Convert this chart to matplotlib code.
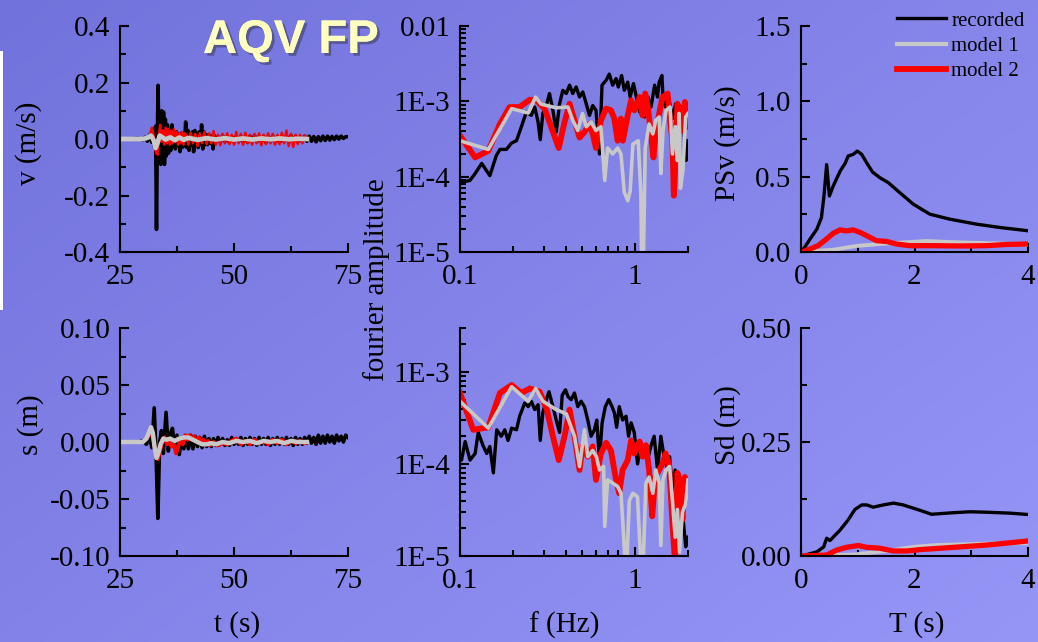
import numpy as np
import matplotlib
matplotlib.use("Agg")
import matplotlib.pyplot as plt
from matplotlib.ticker import FixedLocator, FixedFormatter, NullFormatter
from matplotlib.lines import Line2D
from matplotlib.patches import Rectangle
import matplotlib.patheffects as pe

# ---------------------------------------------------------------- data
# velocity time histories (m/s)
rec_v_t = [25.0, 27.0, 29.0, 30.0, 30.5, 31.0, 31.5, 32.0, 32.3, 32.6, 32.8, 33.0,
           33.2, 33.35, 33.55, 33.75, 33.95, 34.15, 34.35, 34.55, 34.75, 34.95,
           35.15, 35.4, 35.65, 35.9, 36.15, 36.4, 36.65, 36.9, 37.15, 37.4, 37.65,
           37.9, 38.15, 38.4, 38.65, 38.9, 39.15, 39.4, 39.65, 39.9, 40.15, 40.4,
           40.65, 40.9, 41.15, 41.4, 41.65, 41.9, 42.15, 42.4, 42.65, 42.9, 43.15,
           43.4, 43.65, 43.9, 44.2, 44.5, 44.8, 45.1, 45.4, 45.7, 46.0]
rec_v = [0.000, 0.000, 0.002, -0.003, 0.006, -0.008, 0.015, -0.012, 0.035, -0.030, 0.045, -0.320,
         0.020, 0.190, -0.070, 0.060, -0.090, 0.100, -0.080, 0.095, -0.090, 0.070,
         -0.060, 0.050, -0.050, 0.030, -0.040, 0.050, -0.025, 0.020, -0.035, 0.025, -0.020,
         0.015, -0.045, 0.020, -0.030, 0.020, -0.025, 0.060, -0.030, 0.030, -0.040, 0.020,
         -0.020, 0.025, -0.045, 0.030, -0.020, 0.020, -0.030, 0.025, -0.020, 0.050, -0.035,
         0.025, -0.020, 0.015, -0.020, 0.015, -0.015, 0.010, -0.035, 0.012, -0.010]
rec_v_tail_t = [46.5 + 0.5 * i for i in range(58)]
rec_v_tail = [0.008, -0.010, 0.012, -0.008, 0.010, -0.012, 0.008, -0.010, 0.010, -0.008,
              0.009, -0.010, 0.008, -0.012, 0.010, -0.008, 0.012, -0.010, 0.008, -0.009,
              0.010, -0.012, 0.009, -0.008, 0.010, -0.010, 0.008, -0.012, 0.010, -0.008,
              0.009, -0.010, 0.012, -0.008, 0.010, -0.010, 0.008, -0.009, 0.010, -0.008,
              0.010, -0.008, 0.009, -0.010, 0.008, -0.006, 0.010, -0.005, 0.010, -0.004,
              0.009, -0.002, 0.010, 0.000, 0.010, 0.002, 0.008, 0.008]

m2_v_t = [25.0, 30.0, 31.0, 31.5, 32.0, 32.3, 32.6, 32.9, 33.3, 33.6, 33.8, 34.1, 34.4,
          34.7, 35.0, 35.3, 35.6, 35.9, 36.2, 36.5, 36.8, 37.1, 37.4, 37.7, 38.0, 38.3,
          38.6, 38.9, 39.2]
m2_v = [0.000, 0.000, 0.003, 0.012, 0.040, 0.020, -0.020, -0.050, -0.055, 0.020, 0.050, -0.010, 0.030,
        -0.020, 0.040, -0.015, 0.035, -0.020, 0.030, -0.015, 0.035, -0.010, 0.025, -0.020, 0.020, -0.015,
        0.025, -0.020, 0.020]
m2_v_tail_t = [39.5 + 0.5 * i for i in range(54)]
m2_v_tail = [0.015, -0.020, 0.022, -0.015, 0.018, -0.025, 0.020, -0.015, 0.025, -0.018,
             0.020, -0.015, 0.028, -0.020, 0.015, -0.022, 0.018, -0.015, 0.020, -0.018,
             0.015, -0.020, 0.025, -0.015, 0.018, -0.020, 0.022, -0.015, 0.015, -0.020,
             0.018, -0.015, 0.020, -0.022, 0.015, -0.018, 0.020, -0.015, 0.018, -0.020,
             0.015, -0.018, 0.022, -0.015, 0.030, -0.025, 0.018, -0.028, 0.015, -0.018,
             0.015, -0.015, 0.012, 0.000]

m1_v_t = [25, 30, 31, 31.8, 32.4, 32.8, 33.2, 33.7, 34.3, 35, 36, 37, 38, 39, 40, 42, 44,
          46, 48, 50, 52, 54, 56, 58, 60, 62, 64, 66]
m1_v = [0.0, 0.0, 0.004, 0.012, -0.005, -0.032, -0.015, 0.012, 0.006, -0.002, 0.006, -0.004,
        0.005, -0.003, 0.004, -0.003, 0.003, -0.002, 0.003, -0.002, 0.002, -0.002, 0.002,
        -0.001, 0.002, -0.001, 0.001, 0.0]

# displacement time histories (m)
rec_s_t = [25.0, 29.0, 30.0, 30.8, 31.5, 32.0, 32.5, 32.9, 33.3, 33.7, 34.1, 34.5, 35.1,
           35.6, 36.1, 36.5, 37.0, 37.5, 38.0, 38.5, 39.0, 39.5, 40.0, 40.5, 41.0, 41.5,
           42.0, 42.5, 43.0, 43.5, 44.0, 44.5, 45.0]
rec_s = [0.0, 0.0, 0.001, -0.002, 0.004, -0.005, 0.030, -0.010, -0.067, 0.000, 0.010, -0.010, 0.026,
         -0.008, 0.008, 0.012, -0.005, 0.006, -0.011, 0.004, -0.006, 0.005, -0.006, 0.006, -0.006, 0.005,
         -0.004, 0.004, -0.005, 0.005, -0.004, 0.003, -0.004]
rec_s_tail_t = [45.5 + 0.5 * i for i in range(60)]
rec_s_tail = [0.003, -0.003, 0.004, -0.002, 0.003, -0.003, 0.002, -0.003, 0.004, -0.002,
              0.003, -0.002, 0.004, -0.003, 0.003, -0.002, 0.004, -0.002, 0.003, -0.003,
              0.004, -0.002, 0.003, -0.002, 0.004, -0.003, 0.003, -0.002, 0.004, -0.002,
              0.003, -0.002, 0.004, -0.002, 0.003, -0.003, 0.004, -0.002, 0.003, -0.002,
              0.004, -0.001, 0.005, -0.001, 0.004, -0.002, 0.006, -0.001, 0.005, -0.001,
              0.006, 0.000, 0.005, -0.001, 0.006, 0.001, 0.005, 0.000, 0.006, 0.004]

m2_s_t = [25, 30, 31, 31.8, 32.4, 32.9, 33.3, 33.8, 34.3, 34.8, 35.3, 35.8, 36.3, 36.8,
          37.3, 37.8, 38.3, 38.8, 39.3, 39.8, 40.3, 40.8, 41.3, 41.8, 42.3, 42.8, 43.3,
          43.8, 44.3, 44.8, 45.5, 46.5, 47.5, 48.5, 49.5, 50.5, 51.5, 52.5, 53.5, 54.5,
          55.5, 56.5, 57.5, 58.5, 59.5, 60.5, 61.5, 62.5, 63.5, 64.5, 65.5, 66]
m2_s = [0.0, 0.0, 0.004, 0.010, 0.000, -0.012, -0.015, -0.008, 0.002, 0.004, -0.002, 0.000,
        -0.004, -0.002, -0.010, -0.003, 0.002, -0.002, 0.006, 0.002, 0.006, 0.002, 0.005,
        0.000, 0.004, -0.001, 0.002, -0.002, 0.001, -0.003, 0.000, -0.003, -0.001, -0.002,
        0.001, 0.003, -0.002, 0.001, -0.002, 0.002, -0.001, 0.001, -0.002, 0.002, -0.001,
        0.002, -0.002, 0.001, -0.001, 0.001, -0.001, 0.0]

m1_s_t = [25, 30, 30.8, 31.4, 31.8, 32.2, 32.6, 33.0, 33.4, 33.9, 34.5, 35.2, 36.0, 37.0,
          38.0, 39.0, 40.0, 41.0, 42.0, 43.0, 44.0, 45.0, 46.0, 47.5, 49.0, 50.5, 52.0,
          53.5, 55.0, 56.5, 58.0, 59.5, 61.0, 62.5, 64.0, 66.0]
m1_s = [0.0, 0.0, 0.003, 0.009, 0.013, 0.008, -0.005, -0.014, -0.010, -0.002, 0.003, 0.002,
        0.003, 0.001, 0.003, 0.004, 0.004, 0.002, 0.000, -0.002, -0.002, -0.001, -0.002,
        0.000, -0.001, 0.001, 0.000, 0.001, -0.001, 0.001, 0.000, 0.001, -0.001, 0.001,
        0.000, 0.000]

# Fourier amplitude spectra of velocity
rec_f1 = [0.100, 0.114, 0.122, 0.133, 0.148, 0.161, 0.169, 0.184, 0.197, 0.210, 0.224, 0.239,
          0.255, 0.267, 0.279, 0.287, 0.297, 0.313, 0.324, 0.339, 0.354, 0.370, 0.386, 0.404,
          0.422, 0.440, 0.460, 0.481, 0.502, 0.525, 0.548, 0.572, 0.597, 0.625, 0.646, 0.682,
          0.711, 0.743, 0.777, 0.800, 0.836, 0.866, 0.906, 0.935, 0.977, 1.01, 1.06, 1.09,
          1.13, 1.18, 1.23, 1.29, 1.34, 1.37, 1.42, 1.44, 1.49, 1.56, 1.63, 1.70, 1.78, 1.84,
          1.90, 1.95, 2.00]
rec_a1 = [8.4e-5, 8.9e-5, 1.1e-4, 1.5e-4, 1.03e-4, 1.9e-4, 2.3e-4, 2.3e-4, 2.8e-4, 3.0e-4,
          4.6e-4, 7.2e-4, 6.5e-4, 8.4e-4, 5.3e-4, 3.1e-4, 6.9e-4, 9.3e-4, 1.27e-3, 7.6e-4,
          3.9e-4, 9.3e-4, 1.4e-3, 1.27e-3, 1.64e-3, 1.27e-3, 1.55e-3, 1.14e-3, 1.33e-3, 9.3e-4,
          6.5e-4, 8.8e-4, 7.6e-4, 2.0e-4, 1.64e-3, 1.9e-3, 2.3e-3, 1.64e-3, 2.0e-3, 1.55e-3,
          2.2e-3, 1.4e-3, 1.8e-3, 1.14e-3, 1.72e-3, 1.2e-3, 7.2e-4, 1.14e-3, 6.2e-4, 1.14e-3,
          8.4e-4, 1.64e-3, 1.14e-3, 1.8e-3, 2.2e-3, 1.14e-3, 8.4e-4, 1.03e-3, 5.9e-4, 9.3e-4,
          6.5e-4, 8.4e-4, 3.9e-4, 1.64e-4, 3.0e-4]

m2_f1 = [0.100, 0.122, 0.145, 0.169, 0.192, 0.219, 0.250, 0.273, 0.304, 0.331, 0.366, 0.395,
         0.422, 0.450, 0.481, 0.513, 0.548, 0.572, 0.597, 0.637, 0.682, 0.727, 0.760, 0.793,
         0.829, 0.850, 0.906, 0.947, 0.990, 1.06, 1.10, 1.14, 1.18, 1.23, 1.27, 1.31, 1.37,
         1.43, 1.53, 1.58, 1.63, 1.66, 1.70, 1.74, 1.78, 1.86, 1.92, 2.00]
m2_a1 = [3.5e-4, 1.8e-4, 2.2e-4, 5.0e-4, 8.4e-4, 8.4e-4, 1.05e-3, 1.03e-3, 8.0e-4, 4.6e-4,
         2.4e-4, 5.3e-4, 9.3e-4, 5.6e-4, 3.3e-4, 3.9e-4, 5.0e-4, 3.7e-4, 2.4e-4, 5.6e-4,
         8.0e-4, 7.6e-4, 5.9e-4, 3.0e-4, 5.9e-4, 3.0e-4, 6.5e-4, 1.03e-3, 7.6e-4, 1.14e-3,
         6.5e-4, 1.27e-3, 8.4e-4, 3.7e-4, 1.8e-4, 4.1e-4, 6.9e-4, 1.14e-3, 1.27e-3, 5.6e-4,
         3.0e-4, 5.6e-5, 1.64e-4, 9.3e-4, 7.6e-4, 4.1e-4, 9.8e-4, 4.6e-4]

m1_f1 = [0.100, 0.145, 0.197, 0.245, 0.270, 0.290, 0.354, 0.413, 0.440, 0.470, 0.500, 0.525,
         0.560, 0.597, 0.637, 0.670, 0.695, 0.743, 0.793, 0.829, 0.866, 0.906, 0.935, 0.970,
         1.04, 1.077, 1.09, 1.11, 1.14, 1.20, 1.26, 1.31, 1.37, 1.40, 1.44, 1.50, 1.58, 1.63,
         1.69, 1.74, 1.78, 1.81, 1.87, 1.94, 2.00]
m1_a1 = [3.0e-4, 2.3e-4, 8.0e-4, 7.0e-4, 1.14e-3, 9.2e-4, 8.2e-4, 8.4e-4, 5.6e-4, 4.1e-4,
         6.9e-4, 4.6e-4, 5.3e-4, 4.1e-4, 4.6e-4, 8.9e-5, 2.4e-4, 2.0e-4, 2.4e-4, 2.0e-4,
         6.2e-5, 4.8e-5, 6.4e-5, 2.7e-4, 3.0e-4, 5.9e-5, 5.0e-6, 5.0e-6, 2.4e-4, 5.0e-4,
         3.7e-4, 5.6e-4, 6.2e-4, 1.1e-4, 4.1e-4, 7.6e-4, 8.4e-4, 2.0e-4, 4.6e-4, 1.64e-4,
         6.9e-4, 7.0e-5, 1.2e-4, 6.2e-4, 6.9e-4]

# Fourier amplitude spectra of displacement
rec_f2 = [0.100, 0.102, 0.107, 0.114, 0.122, 0.127, 0.136, 0.142, 0.148, 0.155, 0.162, 0.172,
          0.180, 0.188, 0.197, 0.210, 0.219, 0.234, 0.245, 0.255, 0.267, 0.279, 0.287, 0.297,
          0.311, 0.322, 0.339, 0.354, 0.370, 0.383, 0.400, 0.413, 0.431, 0.450, 0.470, 0.491,
          0.513, 0.536, 0.560, 0.585, 0.603, 0.625, 0.647, 0.675, 0.706, 0.737, 0.760, 0.783,
          0.811, 0.847, 0.886, 0.916, 0.947, 0.987, 1.031, 1.077, 1.125, 1.175, 1.227, 1.282,
          1.34, 1.40, 1.46, 1.53, 1.57, 1.63, 1.69, 1.74, 1.82, 1.87, 1.94, 2.00]
rec_a2 = [1.1e-4, 1.1e-4, 1.75e-4, 1.1e-4, 1.3e-4, 2.2e-4, 1.55e-4, 1.3e-4, 1.55e-4, 8.0e-5,
          2.35e-4, 2.0e-4, 2.35e-4, 1.8e-4, 2.45e-4, 2.35e-4, 3.3e-4, 4.6e-4, 4.2e-4, 4.8e-4,
          3.9e-4, 4.4e-4, 1.8e-4, 3.6e-4, 5.0e-4, 6.1e-4, 4.2e-4, 3.0e-4, 2.2e-4, 5.6e-4,
          6.4e-4, 5.4e-4, 5.0e-4, 5.9e-4, 4.2e-4, 4.8e-4, 4.2e-4, 3.0e-4, 2.0e-4, 2.35e-4,
          3.0e-4, 1.1e-4, 2.8e-4, 4.2e-4, 5.0e-4, 4.2e-4, 3.6e-4, 2.5e-4, 4.2e-4, 3.0e-4,
          3.3e-4, 2.0e-4, 2.8e-4, 2.2e-4, 1.0e-4, 1.7e-4, 1.3e-4, 1.1e-4, 1.55e-4, 2.0e-4,
          8.6e-5, 2.0e-4, 1.2e-4, 8.6e-5, 1.2e-4, 5.2e-5, 8.6e-5, 6.2e-5, 6.7e-5, 2.7e-5,
          1.26e-5, 1.6e-5]

m2_f2 = [0.100, 0.119, 0.145, 0.169, 0.197, 0.224, 0.250, 0.285, 0.313, 0.339, 0.366, 0.395,
         0.422, 0.450, 0.481, 0.500, 0.536, 0.572, 0.597, 0.637, 0.682, 0.727, 0.777, 0.810,
         0.847, 0.906, 0.947, 0.987, 1.06, 1.10, 1.15, 1.20, 1.25, 1.30, 1.37, 1.43, 1.49,
         1.56, 1.63, 1.69, 1.74, 1.79, 1.86, 1.92, 2.00]
m2_a2 = [5.9e-4, 2.35e-4, 2.5e-4, 5.9e-4, 7.2e-4, 5.9e-4, 6.6e-4, 6.1e-4, 3.9e-4, 2.0e-4,
         1.1e-4, 2.0e-4, 3.9e-4, 2.0e-4, 8.6e-5, 1.55e-4, 1.2e-4, 1.55e-4, 6.7e-5, 1.3e-4,
         1.7e-4, 1.4e-4, 6.7e-5, 4.8e-5, 8.6e-5, 1.1e-4, 1.8e-4, 1.3e-4, 1.75e-4, 1.2e-4,
         1.6e-4, 8.6e-5, 2.7e-5, 7.2e-5, 8.6e-5, 1.0e-4, 1.3e-4, 1.0e-4, 2.3e-5, 8.0e-6,
         8.0e-5, 6.7e-5, 2.5e-5, 7.2e-5, 4.0e-5]

m1_f2 = [0.100, 0.145, 0.197, 0.245, 0.270, 0.297, 0.354, 0.404, 0.450, 0.481, 0.513, 0.536,
         0.572, 0.600, 0.625, 0.660, 0.670, 0.695, 0.743, 0.793, 0.829, 0.866, 0.886, 0.925,
         0.970, 1.03, 1.077, 1.10, 1.15, 1.20, 1.26, 1.31, 1.37, 1.40, 1.44, 1.50, 1.57,
         1.63, 1.69, 1.74, 1.79, 1.86, 1.94, 2.00]
m1_a2 = [4.8e-4, 2.45e-4, 6.9e-4, 4.8e-4, 6.6e-4, 4.8e-4, 3.9e-4, 3.5e-4, 2.0e-4, 9.4e-5,
         2.35e-4, 1.2e-4, 1.4e-4, 1.2e-4, 8.6e-5, 9.4e-5, 2.1e-5, 6.7e-5, 6.2e-5, 5.7e-5,
         4.8e-5, 1.26e-5, 5.0e-6, 4.0e-5, 4.8e-5, 4.4e-5, 8.0e-6, 5.0e-6, 6.2e-5, 7.2e-5,
         4.8e-5, 8.6e-5, 6.2e-5, 1.3e-5, 6.7e-5, 8.6e-5, 9.4e-5, 4.0e-5, 1.6e-5, 3.2e-5,
         1.1e-5, 3.0e-5, 3.7e-5, 6.7e-5]

# pseudo-spectral velocity (m/s)
rec_psv_T = [0.01, 0.16, 0.28, 0.36, 0.405, 0.452, 0.50, 0.57, 0.69, 0.78, 0.83, 0.92, 0.99,
             1.07, 1.16, 1.26, 1.39, 1.54, 1.74, 1.98, 2.27, 2.62, 3.09, 3.50, 4.00]
rec_psv = [0.0, 0.086, 0.152, 0.229, 0.372, 0.58, 0.372, 0.44, 0.537, 0.59, 0.637, 0.648,
           0.67, 0.648, 0.59, 0.531, 0.493, 0.46, 0.394, 0.317, 0.251, 0.218, 0.185, 0.163, 0.141]
m2_psv_T = [0.01, 0.16, 0.30, 0.45, 0.57, 0.69, 0.80, 0.92, 1.04, 1.18, 1.33, 1.51, 1.68,
            1.92, 2.33, 2.80, 3.27, 3.62, 4.00]
m2_psv = [0.0, 0.02, 0.042, 0.086, 0.125, 0.147, 0.14, 0.147, 0.13, 0.104, 0.075, 0.07,
          0.053, 0.042, 0.042, 0.040, 0.042, 0.050, 0.053]
m1_psv_T = [0.0, 0.57, 0.98, 1.45, 1.92, 2.21, 2.62, 3.15, 3.62, 4.00]
m1_psv = [0.0, 0.015, 0.04, 0.055, 0.066, 0.073, 0.066, 0.060, 0.055, 0.048]

# spectral displacement (m)
rec_sd_T = [0.01, 0.28, 0.40, 0.452, 0.51, 0.69, 0.83, 0.95, 1.07, 1.16, 1.27, 1.45, 1.63,
            1.80, 2.10, 2.30, 2.69, 2.98, 3.27, 3.68, 4.00]
rec_sd = [0.0, 0.009, 0.020, 0.039, 0.034, 0.057, 0.079, 0.102, 0.112, 0.112, 0.107, 0.112,
          0.116, 0.112, 0.100, 0.0915, 0.095, 0.097, 0.096, 0.094, 0.091]
m2_sd_T = [0.0, 0.45, 0.63, 0.80, 1.01, 1.16, 1.39, 1.63, 1.86, 2.10, 2.69, 3.27, 3.68, 4.00]
m2_sd = [0.0, 0.002, 0.013, 0.019, 0.023, 0.019, 0.017, 0.011, 0.011, 0.014, 0.019, 0.024,
         0.029, 0.033]
m1_sd_T = [0.0, 0.92, 1.51, 1.98, 2.39, 2.98, 3.56, 4.00]
m1_sd = [0.0, 0.003, 0.011, 0.020, 0.024, 0.026, 0.028, 0.028]

series_names = ["recorded", "model 1", "model 2"]

# tick labels
v_ticks = [-0.4, -0.2, 0.0, 0.2, 0.4]
v_labels = ["-0.4", "-0.2", "0.0", "0.2", "0.4"]
s_ticks = [-0.10, -0.05, 0.0, 0.05, 0.10]
s_labels = ["-0.10", "-0.05", "0.00", "0.05", "0.10"]
t_ticks = [25, 50, 75]
t_labels = ["25", "50", "75"]
f_ticks = [0.1, 1.0]
f_labels = ["0.1", "1"]
a1_ticks = [1e-5, 1e-4, 1e-3, 1e-2]
a1_labels = ["1E-5", "1E-4", "1E-3", "0.01"]
a2_ticks = [1e-5, 1e-4, 1e-3]
a2_labels = ["1E-5", "1E-4", "1E-3"]
psv_ticks = [0.0, 0.5, 1.0, 1.5]
psv_labels = ["0.0", "0.5", "1.0", "1.5"]
sd_ticks = [0.0, 0.25, 0.50]
sd_labels = ["0.00", "0.25", "0.50"]
T_ticks = [0, 2, 4]
T_labels = ["0", "2", "4"]

# ---------------------------------------------------------------- style
W, H, DPI = 1038, 642, 100
plt.rcParams['font.family'] = ['Liberation Serif', 'DejaVu Serif']
FS = 21
C_REC, C_M1, C_M2 = "black", "#c8c8c8", "#ff0000"

fig = plt.figure(figsize=(W / DPI, H / DPI), dpi=DPI)

# diagonal blue-violet background
bg = fig.add_axes([0, 0, 1, 1], zorder=-10)
gy, gx = np.mgrid[0:1:200j, 0:1:300j]
mix = (0.55 * gx + 0.45 * gy)[..., None]
c_top = np.array([114, 114, 220]) / 255.0
c_bot = np.array([150, 150, 247]) / 255.0
bg.imshow(c_top + (c_bot - c_top) * mix, aspect='auto', extent=[0, 1, 0, 1], origin='upper')
bg.axis('off')

fig.patches.append(Rectangle((0, 1 - 310 / H), 2.5 / W, (310 - 51) / H,
                             transform=fig.transFigure, facecolor='white',
                             edgecolor='none', zorder=-5))


def panel(left, top, right, bottom):
    ax = fig.add_axes([left / W, 1 - bottom / H, (right - left) / W, (bottom - top) / H])
    ax.set_facecolor('none')
    for s in ('top', 'right'):
        ax.spines[s].set_visible(False)
    for s in ('left', 'bottom'):
        ax.spines[s].set_linewidth(1.5)
    ax.tick_params(which='both', direction='in', width=1.5, labelsize=FS)
    ax.tick_params(which='major', length=6.5)
    ax.tick_params(which='minor', length=4.5)
    ax.tick_params(axis='y', pad=7)
    ax.tick_params(axis='x', pad=9)
    return ax


def fixed(axis, ticks, labels, minor=None):
    axis.set_major_locator(FixedLocator(ticks))
    axis.set_major_formatter(FixedFormatter(labels))
    if minor is not None:
        axis.set_minor_locator(FixedLocator(minor))
    axis.set_minor_formatter(NullFormatter())


def log_minor(lo, hi):
    out = []
    for d in range(lo, hi):
        out += [m * 10.0 ** d for m in range(2, 10)]
    return out


TOP1, BOT1, TOP2, BOT2 = 26, 252, 328, 556
X1, X1R, X2, X2R, X3, X3R = 120, 348, 460, 688, 801, 1028

# velocity time history
ax1 = panel(X1, TOP1, X1R, BOT1)
ax1.plot(rec_v_t + rec_v_tail_t, rec_v + rec_v_tail, color=C_REC, lw=2.6)
ax1.plot(m2_v_t + m2_v_tail_t, m2_v + m2_v_tail, color=C_M2, lw=1.8)
ax1.plot(m1_v_t, m1_v, color=C_M1, lw=3.4)
ax1.set_xlim(25, 75)
ax1.set_ylim(-0.4, 0.4)
fixed(ax1.xaxis, t_ticks, t_labels, [37.5, 62.5])
fixed(ax1.yaxis, v_ticks, v_labels, [-0.3, -0.1, 0.1, 0.3])

# displacement time history
ax4 = panel(X1, TOP2, X1R, BOT2)
ax4.plot(rec_s_t + rec_s_tail_t, rec_s + rec_s_tail, color=C_REC, lw=2.6)
ax4.plot(m2_s_t, m2_s, color=C_M2, lw=2.8)
ax4.plot(m1_s_t, m1_s, color=C_M1, lw=3.2)
ax4.set_xlim(25, 75)
ax4.set_ylim(-0.10, 0.10)
fixed(ax4.xaxis, t_ticks, t_labels, [37.5, 62.5])
fixed(ax4.yaxis, s_ticks, s_labels, [-0.075, -0.025, 0.025, 0.075])

# Fourier spectra
f_minor = [0.2, 0.3, 0.4, 0.5, 0.6, 0.7, 0.8, 0.9, 2.0]
ax2 = panel(X2, TOP1, X2R, BOT1)
ax2.plot(rec_f1, rec_a1, color=C_REC, lw=2.4)
ax2.plot(m2_f1, m2_a1, color=C_M2, lw=4.2)
ax2.plot(m1_f1, m1_a1, color=C_M1, lw=2.6)
ax2.set_xscale('log')
ax2.set_yscale('log')
ax2.set_xlim(0.1, 2.0)
ax2.set_ylim(1e-5, 1e-2)
fixed(ax2.xaxis, f_ticks, f_labels, f_minor)
fixed(ax2.yaxis, a1_ticks, a1_labels, log_minor(-5, -2))

ax5 = panel(X2, TOP2, X2R, BOT2)
ax5.plot(rec_f2, rec_a2, color=C_REC, lw=2.4)
ax5.plot(m2_f2, m2_a2, color=C_M2, lw=4.2)
ax5.plot(m1_f2, m1_a2, color=C_M1, lw=2.6)
ax5.set_xscale('log')
ax5.set_yscale('log')
ax5.set_xlim(0.1, 2.0)
ax5.set_ylim(1e-5, 3e-3)
fixed(ax5.xaxis, f_ticks, f_labels, f_minor)
fixed(ax5.yaxis, a2_ticks, a2_labels, [m for m in log_minor(-5, -2) if m <= 3e-3])

# response spectra
ax3 = panel(X3, TOP1, X3R, BOT1)
ax3.plot(rec_psv_T, rec_psv, color=C_REC, lw=2.4)
ax3.plot(m1_psv_T, m1_psv, color=C_M1, lw=2.8)
ax3.plot(m2_psv_T, m2_psv, color=C_M2, lw=3.8)
ax3.set_xlim(0, 4)
ax3.set_ylim(0, 1.5)
fixed(ax3.xaxis, T_ticks, T_labels, [1, 3])
fixed(ax3.yaxis, psv_ticks, psv_labels, [0.25, 0.75, 1.25])

ax6 = panel(X3, TOP2, X3R, BOT2)
ax6.plot(rec_sd_T, rec_sd, color=C_REC, lw=2.4)
ax6.plot(m1_sd_T, m1_sd, color=C_M1, lw=2.8)
ax6.plot(m2_sd_T, m2_sd, color=C_M2, lw=3.8)
ax6.set_xlim(0, 4)
ax6.set_ylim(0, 0.5)
fixed(ax6.xaxis, T_ticks, T_labels, [1, 3])
fixed(ax6.yaxis, sd_ticks, sd_labels, [0.125, 0.375])

for ax in (ax1, ax2, ax3, ax4, ax5, ax6):
    for a in ax.get_lines():
        a.set_solid_joinstyle('round')

# legend
handles = [Line2D([], [], color=C_REC, lw=2.4),
           Line2D([], [], color=C_M1, lw=3.0),
           Line2D([], [], color=C_M2, lw=4.2)]
fig.legend(handles, series_names, loc='upper left',
           bbox_to_anchor=(897 / W, 1 - 11 / H), bbox_transform=fig.transFigure,
           frameon=False, fontsize=15, handlelength=2.35, handletextpad=0.25,
           labelspacing=0.28, borderpad=0, borderaxespad=0)


def label(x, y, text, rot=0):
    fig.text(x / W, 1 - y / H, text, rotation=rot, ha='center', va='center', fontsize=FS)


label(29, 143, "v (m/s)", 90)
label(31, 425, "s (m)", 90)
label(377, 280, "fourier amplitude", 90)
label(728, 143, "PSv (m/s)", 90)
label(728, 425, "Sd (m)", 90)
label(237, 625, "t (s)")
label(564, 625, "f (Hz)")
label(917, 625, "T (s)")

fig.text(203 / W, 1 - 41 / H, "AQV FP", fontsize=34, fontweight='bold',
         family=['Liberation Sans', 'DejaVu Sans'], color='#ffffc0', ha='left', va='center',
         path_effects=[pe.withSimplePatchShadow(offset=(2, -2), shadow_rgbFace='#404060', alpha=0.6),
                       pe.Normal()])

fig.savefig("out.png", dpi=DPI)
